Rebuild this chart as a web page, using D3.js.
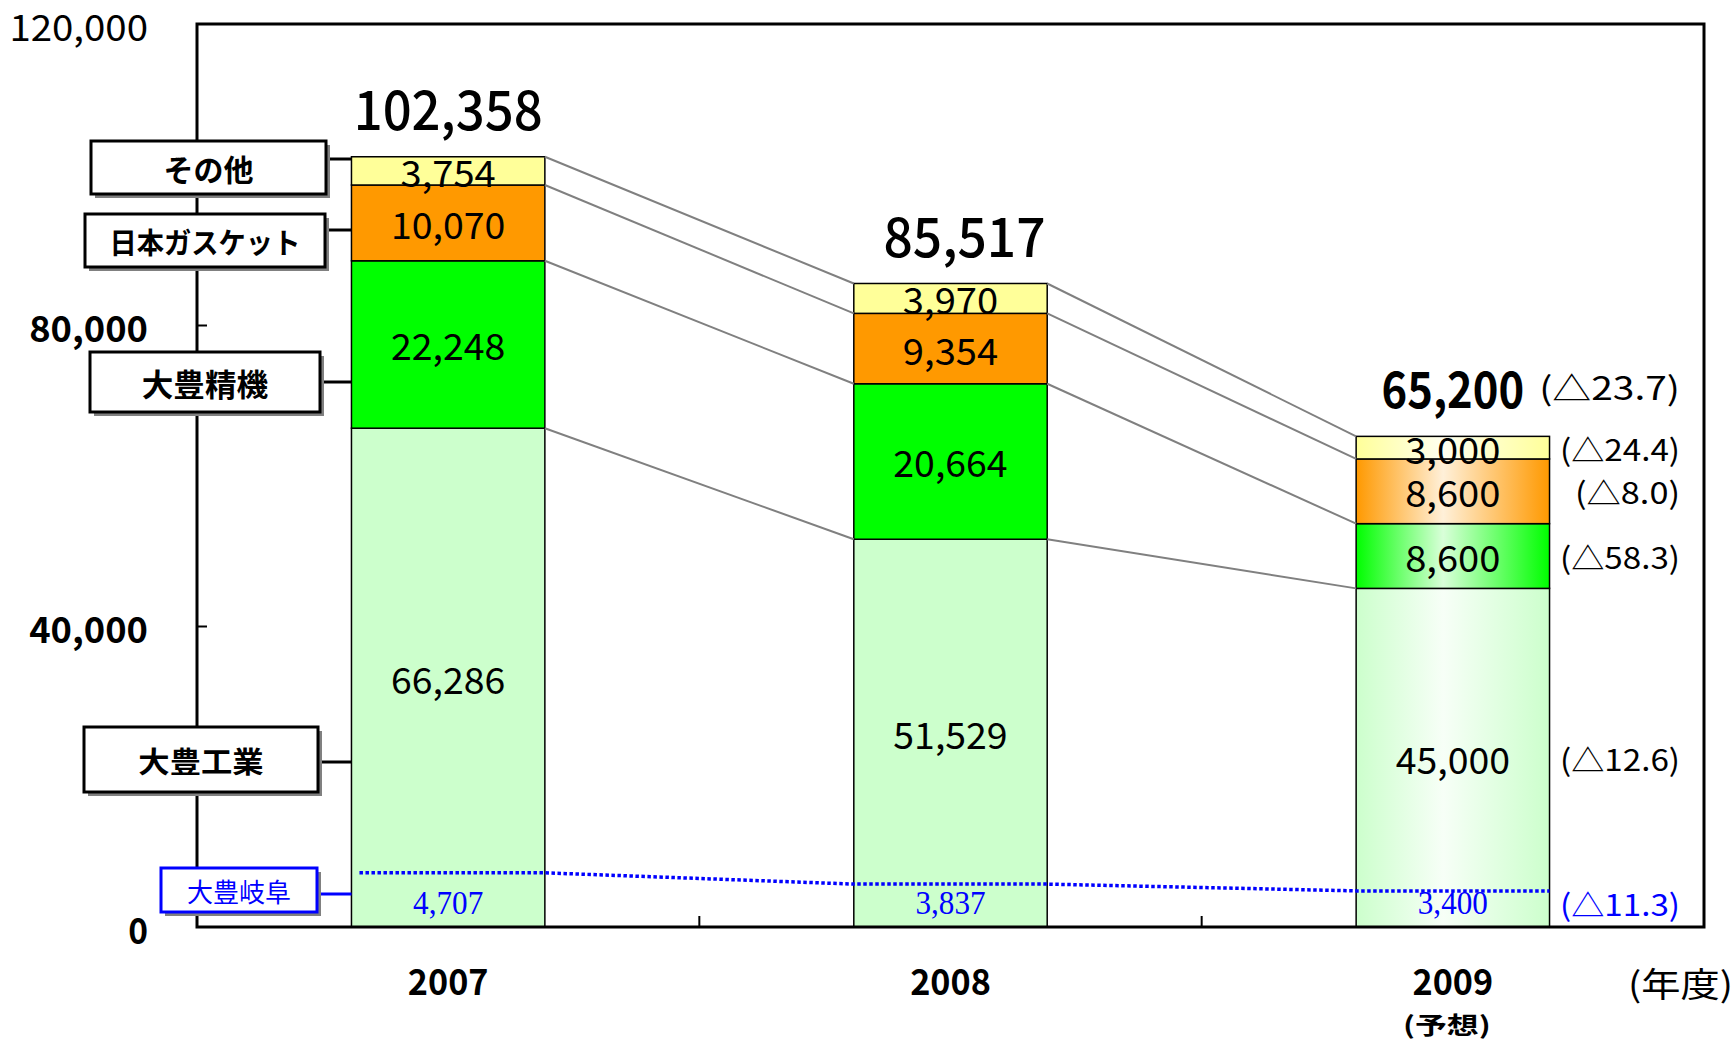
<!DOCTYPE html>
<html>
<head>
<meta charset="utf-8">
<script src="https://cdn.jsdelivr.net/npm/d3@7"></script>
<style>
  body { margin: 0; background: #fff; }
</style>
</head>
<body>
<div id="chart"></div>
<script>
// ---- data ----
const years = ["2007", "2008", "2009"];
const yearNotes = ["", "", "(予想)"];
const seriesNames = ["大豊工業", "大豊精機", "日本ガスケット", "その他"];
const kogyo  = [66286, 51529, 45000];
const seiki  = [22248, 20664, 8600];
const gasket = [10070, 9354, 8600];
const sonota = [3754, 3970, 3000];
const totals = [102358, 85517, 65200];
const gifu = [4707, 3837, 3400];            // 大豊岐阜 (part of 大豊工業)
const gifuGuide = [7200, 5700, 4800];       // level of the dotted guide line
const changes2009 = ["(△12.6)", "(△58.3)", "(△8.0)", "(△24.4)"];
const totalChange = "(△23.7)";
const gifuChange = "(△11.3)";
const yTicks = [0, 40000, 80000, 120000];
const unitLabel = "(年度)";

// ---- layout ----
const W = 1735, H = 1040;
const plot = { left: 197, right: 1704, top: 24, bottom: 927 };
const colors = ["#ccffcc", "#00ff00", "#ff9900", "#ffff99"];
const blue = "#0000ff";
const totalShift = [0, 14, 0];   // horizontal nudge of the total labels
const callouts = [
  { name: "その他",         x0: 91,  y0: 141, x1: 326, y1: 194, ly: 159, size: 30, k: 1.0 },
  { name: "日本ガスケット", x0: 85,  y0: 214, x1: 325, y1: 267, ly: 230, size: 29, k: 0.94 },
  { name: "大豊精機",       x0: 90,  y0: 352, x1: 320, y1: 412, ly: 382, size: 31, k: 1.02 },
  { name: "大豊工業",       x0: 84,  y0: 727, x1: 318, y1: 792, ly: 762, size: 29, k: 1.08 },
  { name: "大豊岐阜",       x0: 161, y0: 868, x1: 317, y1: 912, ly: 894, size: 26, k: 1.0, color: blue }
];

const svg = d3.select("#chart")
  .append("svg")
    .attr("width", W)
    .attr("height", H)
    .style("font-family", "'Noto Sans CJK JP', sans-serif");

// width of a string in MS-Gothic style ems (half-width = 0.5)
function emWidth(s) {
  let w = 0;
  for (const ch of s) w += ch.codePointAt(0) < 0x1100 ? 0.5 : 1;
  return w;
}
function label(g, x, y, str, o) {
  const t = g.append("text")
    .attr("x", x).attr("y", y)
    .attr("font-size", o.size)
    .attr("text-anchor", o.anchor || "middle")
    .attr("dominant-baseline", "central")
    .attr("fill", o.fill || "#000")
    .attr("font-weight", o.weight || "normal")
    .text(str);
  if (o.family) t.attr("font-family", o.family);
  if (o.k) t.attr("textLength", emWidth(str) * o.size * o.k).attr("lengthAdjust", "spacingAndGlyphs");
  return t;
}

// scales
const x = d3.scaleBand().domain(years).range([plot.left, plot.right]);
const barW = x.bandwidth() * 0.385;
const cx = d => x(d) + x.bandwidth() / 2;
const bx0 = d => cx(d) - barW / 2;
const bx1 = d => cx(d) + barW / 2;
const y = d3.scaleLinear().domain([0, 120000]).range([plot.bottom, plot.top]);
const isForecast = yr => yearNotes[years.indexOf(yr)] !== "";
const fmt = d3.format(",");

// stacked table
const table = years.map((yr, i) => ({
  year: yr,
  "大豊工業": kogyo[i], "大豊精機": seiki[i], "日本ガスケット": gasket[i], "その他": sonota[i]
}));
const stack = d3.stack().keys(seriesNames)(table);

// gradients for the forecast bar
const defs = svg.append("defs");
colors.forEach((c, k) => {
  const g = defs.append("linearGradient").attr("id", "fc" + k)
    .attr("x1", 0).attr("x2", 1).attr("y1", 0).attr("y2", 0);
  g.append("stop").attr("offset", "0%").attr("stop-color", c);
  g.append("stop").attr("offset", "45%").attr("stop-color", d3.interpolateRgb(c, "#fff")(0.85));
  g.append("stop").attr("offset", "100%").attr("stop-color", c);
});

// bars
svg.append("g")
  .selectAll("g")
  .data(stack)
  .join("g")
  .selectAll("rect")
  .data((layer, k) => layer.map(p => ({ p, k })))
  .join("rect")
    .attr("x", d => bx0(d.p.data.year))
    .attr("width", barW)
    .attr("y", d => y(d.p[1]))
    .attr("height", d => y(d.p[0]) - y(d.p[1]))
    .attr("fill", d => isForecast(d.p.data.year) ? `url(#fc${d.k})` : colors[d.k])
    .attr("stroke", "#000")
    .attr("stroke-width", 1.5);

// gray connectors between bars
const links = [];
stack.forEach(layer => {
  for (let i = 0; i < layer.length - 1; i++) links.push([layer[i], layer[i + 1]]);
});
svg.append("g")
  .attr("stroke", "#808080")
  .attr("stroke-width", 2)
  .selectAll("line")
  .data(links)
  .join("line")
    .attr("x1", d => bx1(d[0].data.year)).attr("y1", d => y(d[0][1]))
    .attr("x2", d => bx0(d[1].data.year)).attr("y2", d => y(d[1][1]));

// 大豊岐阜 dotted guide
const guidePts = [];
years.forEach((yr, i) => {
  guidePts.push([i === 0 ? bx0(yr) + 8 : bx0(yr), y(gifuGuide[i])]);
  guidePts.push([bx1(yr), y(gifuGuide[i])]);
});
svg.append("path")
  .attr("d", d3.line()(guidePts))
  .attr("fill", "none")
  .attr("stroke", blue)
  .attr("stroke-width", 3.5)
  .attr("stroke-dasharray", "3.5,2.5");

// value labels inside bars
const vg = svg.append("g");
stack.forEach(layer => {
  layer.forEach(p => {
    label(vg, cx(p.data.year), (y(p[0]) + y(p[1])) / 2, fmt(p[1] - p[0]), { size: 37, k: 1.03 });
  });
});
gifu.forEach((v, i) => {
  label(vg, cx(years[i]), y(0) - 24, fmt(v),
    { size: 33, k: 0.85, fill: blue, family: "'Liberation Serif', serif" });
});

// totals
totals.forEach((v, i) => {
  const fc = isForecast(years[i]);
  label(vg, cx(years[i]) + totalShift[i], y(v) - 50, fmt(v),
    { size: fc ? 50 : 54, k: fc ? 0.95 : 1.0, weight: fc ? "bold" : 500 });
});

// change ratios for the forecast year
const last = years.length - 1;
const cg = svg.append("g");
label(cg, 1680, y(totals[last]) - 50, totalChange, { size: 32, k: 1.1, anchor: "end" });
stack.forEach((layer, k) => {
  const p = layer[last];
  label(cg, 1680, (y(p[0]) + y(p[1])) / 2, changes2009[k], { size: 30, k: 1.0, anchor: "end" });
});
label(cg, 1680, y(0) - 24, gifuChange, { size: 30, k: 1.0, anchor: "end", fill: blue });

// frame
svg.append("rect")
  .attr("x", plot.left).attr("y", plot.top)
  .attr("width", plot.right - plot.left).attr("height", plot.bottom - plot.top)
  .attr("fill", "none").attr("stroke", "#000").attr("stroke-width", 3);

// Y axis labels
const yAxis = svg.append("g")
  .attr("transform", `translate(${plot.left},0)`)
  .call(d3.axisLeft(y).tickValues(yTicks).tickFormat(fmt).tickSize(0).tickPadding(49));
yAxis.select(".domain").remove();
yAxis.selectAll("text")
  .attr("dy", null)
  .attr("dominant-baseline", "central")
  .attr("font-family", "'Noto Sans CJK JP', sans-serif")
  .attr("font-size", 36)
  .attr("font-weight", d => d === yTicks[yTicks.length - 1] ? "normal" : "bold")
  .attr("fill", "#000")
  .each(function () {
    d3.select(this).attr("textLength", emWidth(this.textContent) * 36 * 1.1).attr("lengthAdjust", "spacingAndGlyphs");
  });

// Y inward ticks
const yTickIn = svg.append("g")
  .attr("transform", `translate(${plot.left},0)`)
  .call(d3.axisRight(y).tickValues(yTicks.slice(1, -1)).tickSize(10).tickFormat(""));
yTickIn.select(".domain").remove();
yTickIn.selectAll("line").attr("stroke", "#000").attr("stroke-width", 2);

// X axis labels
const xAxis = svg.append("g")
  .attr("transform", `translate(0,${plot.bottom})`)
  .call(d3.axisBottom(x).tickSize(0));
xAxis.select(".domain").remove();
xAxis.selectAll("text")
  .attr("y", 52).attr("dy", null)
  .attr("dominant-baseline", "central")
  .attr("font-family", "'Noto Sans CJK JP', sans-serif")
  .attr("font-size", 36)
  .attr("font-weight", "bold")
  .attr("fill", "#000")
  .each(function () {
    d3.select(this).attr("textLength", emWidth(this.textContent) * 36 * 1.12).attr("lengthAdjust", "spacingAndGlyphs");
  });

// X inward ticks at category boundaries
svg.append("g")
  .selectAll("line")
  .data(years.slice(1))
  .join("line")
    .attr("x1", d => x(d)).attr("x2", d => x(d))
    .attr("y1", plot.bottom).attr("y2", plot.bottom - 11)
    .attr("stroke", "#000").attr("stroke-width", 2);

// notes under years and the unit
const ng = svg.append("g");
years.forEach((yr, i) => {
  if (yearNotes[i]) label(ng, cx(yr) - 6, plot.bottom + 96, yearNotes[i], { size: 24, k: 1.22, weight: "bold" });
});
label(ng, 1628, plot.bottom + 55, unitLabel, { size: 34, k: 1.03, anchor: "start" });

// callout boxes on the left
const cb = svg.append("g");
callouts.forEach(c => {
  const col = c.color || "#000";
  cb.append("line")
    .attr("x1", c.x1).attr("x2", bx0(years[0]))
    .attr("y1", c.ly).attr("y2", c.ly)
    .attr("stroke", col).attr("stroke-width", 3);
  cb.append("rect")
    .attr("x", c.x0 + 4).attr("y", c.y0 + 4)
    .attr("width", c.x1 - c.x0).attr("height", c.y1 - c.y0)
    .attr("fill", "#808080");
  cb.append("rect")
    .attr("x", c.x0).attr("y", c.y0)
    .attr("width", c.x1 - c.x0).attr("height", c.y1 - c.y0)
    .attr("fill", "#fff").attr("stroke", col).attr("stroke-width", 3);
  label(cb, (c.x0 + c.x1) / 2, (c.y0 + c.y1) / 2, c.name,
    { size: c.size, k: c.k, fill: col, weight: c.color ? "normal" : "bold" });
});
</script>
</body>
</html>
